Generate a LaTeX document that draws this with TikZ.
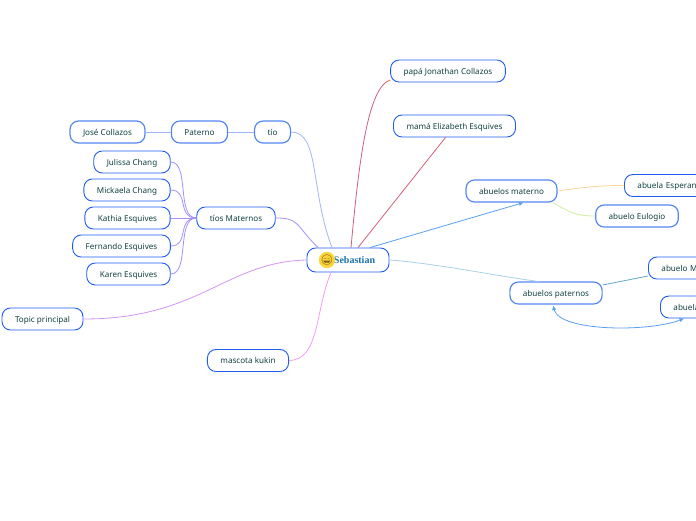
\documentclass[tikz,border=0pt]{standalone}
\usepackage{fontspec}
\setmainfont{Noto Sans}
\newfontfamily\titlefont{Liberation Serif}
\newfontfamily\emojifont{Noto Emoji}
\usepackage{tikz}
\usetikzlibrary{arrows.meta}
\definecolor{nodeblue}{HTML}{1F5BF0}
\definecolor{softblue}{HTML}{5585F5}
\definecolor{nodetext}{HTML}{0F3F3F}
\definecolor{titleblue}{HTML}{1A70A8}
\definecolor{parentline}{HTML}{D0607A}
\definecolor{skyline}{HTML}{5AA0F0}
\definecolor{paleline}{HTML}{A8D0E8}
\definecolor{tioline}{HTML}{A0B6FA}
\definecolor{tiosline}{HTML}{A58FFA}
\definecolor{topicline}{HTML}{D494F2}
\definecolor{petline}{HTML}{F29CF0}
\definecolor{orangeline}{HTML}{FAD49A}
\definecolor{limeline}{HTML}{CDF09A}
\definecolor{tealline}{HTML}{5FA8C8}
\definecolor{smileyface}{HTML}{FBD33A}
\definecolor{smileyink}{HTML}{5A3A10}

\begin{document}
\begin{tikzpicture}[
x=1pt, y=-1pt,
topicnode/.style={rectangle, rounded corners=8.5pt, draw=nodeblue, line width=0.9pt, text=nodetext, minimum height=22pt, inner xsep=13pt, inner ysep=0pt, text height=6pt, text depth=0pt, font=\fontsize{8.1}{10}\selectfont},
softnode/.style={topicnode, draw=softblue, line width=1.2pt},
cutnode/.style={topicnode, anchor=west, text width=90pt, align=left},
link/.style={line width=0.8pt},
]
\clip (0,0) rectangle (696,520);

\node[topicnode, minimum height=24pt, minimum width=82pt, text=titleblue, font=\titlefont\bfseries\fontsize{10}{12}\selectfont]  at(348,260) (Sebastian) {\hspace*{13pt}Sebastian};
\node[circle, fill=smileyface, text=smileyink, inner sep=0pt, minimum size=11pt, font=\emojifont\fontsize{10}{10}\selectfont]  at(327,260) (smiley) {😄};

\node[topicnode]  at(448,71) (papa) {papá Jonathan Collazos};
\node[topicnode]  at(454.5,126) (mama) {mamá Elizabeth Esquives};
\node[softnode]  at(511.5,191) (abuelosMaterno) {abuelos materno};
\node[cutnode]  at(624,185.5) (abuelaEsperanza) {abuela Esperan};
\node[softnode]  at(637,216) (abueloEulogio) {abuelo Eulogio};
\node[softnode]  at(556,293) (abuelosPaterno) {abuelos paternos};
\node[cutnode]  at(648,268) (abueloM) {abuelo M};
\node[cutnode]  at(660,307) (abuela) {abuela};

\node[softnode]  at(272.5,132) (tio) {tío};
\node[softnode]  at(199.5,132) (paterno) {Paterno};
\node[softnode]  at(107.5,132) (jose) {José Collazos};
\node[topicnode]  at(236,218) (tiosMaternos) {tíos Maternos};
\node[topicnode]  at(132,162) (julissa) {Julissa Chang};
\node[topicnode]  at(127,190) (mickaela) {Mickaela Chang};
\node[topicnode]  at(127.5,218) (kathia) {Kathia Esquives};
\node[topicnode]  at(121.5,246) (fernando) {Fernando Esquives};
\node[topicnode]  at(128.5,274) (karen) {Karen Esquives};
\node[topicnode]  at(42.5,319) (topic) {Topic principal};
\node[topicnode]  at(248,360.5) (mascota) {mascota kukin};

% center to main topics
\draw[link, color=parentline] ([xshift=3pt]Sebastian.north) .. controls (359,160) and (368,87) .. ([yshift=-9pt]papa.west);
\draw[link, color=parentline] ([xshift=10pt]Sebastian.north) -- ([xshift=-9pt]mama.south);
\draw[link, color=skyline, -{Latex[length=4.5pt,width=4.5pt]}] ([xshift=22pt]Sebastian.north) -- ([xshift=12pt]abuelosMaterno.south);
\draw[link, color=paleline] (Sebastian.east) .. controls (440,264) and (490,275) .. ([xshift=-18pt]abuelosPaterno.north);
\draw[link, color=tioline] (tio.east) .. controls (320,132) and (310,190) .. ([xshift=-16pt]Sebastian.north);
\draw[link, color=tiosline] (tiosMaternos.east) .. controls (300,218) and (295,225) .. ([xshift=-30pt]Sebastian.north);
\draw[link, color=topicline] (topic.east) .. controls (200,319) and (225,262) .. (Sebastian.west);
\draw[link, color=petline] (mascota.east) .. controls (320,360) and (315,310) .. ([xshift=-17pt]Sebastian.south);

% left branches
\draw[link, color=tioline] (jose) -- (paterno);
\draw[link, color=tioline] (paterno) -- (tio);
\draw[link, color=tiosline] (julissa.east) .. controls (190,162) and (176,218) .. (tiosMaternos.west);
\draw[link, color=tiosline] (mickaela.east) .. controls (190,190) and (176,218) .. (tiosMaternos.west);
\draw[link, color=tiosline] (kathia.east) -- (tiosMaternos.west);
\draw[link, color=tiosline] (fernando.east) .. controls (190,246) and (176,218) .. (tiosMaternos.west);
\draw[link, color=tiosline] (karen.east) .. controls (190,274) and (176,218) .. (tiosMaternos.west);

% right branches
\draw[link, color=orangeline] (abuelosMaterno.east) .. controls (585,187) and (600,185.5) .. (abuelaEsperanza.west);
\draw[link, color=limeline] ([xshift=-5pt]abuelosMaterno.south east) .. controls (570,212) and (575,216) .. (abueloEulogio.west);
\draw[link, color=tealline] ([yshift=8pt]abuelosPaterno.east) -- ([yshift=-8pt]abueloM.west);
\draw[link, color=skyline, {Latex[length=4.5pt,width=4.5pt]}-{Latex[length=4.5pt,width=4.5pt]}] ([xshift=-3pt,yshift=-1pt]abuelosPaterno.south) .. controls (560,332) and (650,332) .. ([xshift=24pt]abuela.south west);

\end{tikzpicture}
\end{document}
